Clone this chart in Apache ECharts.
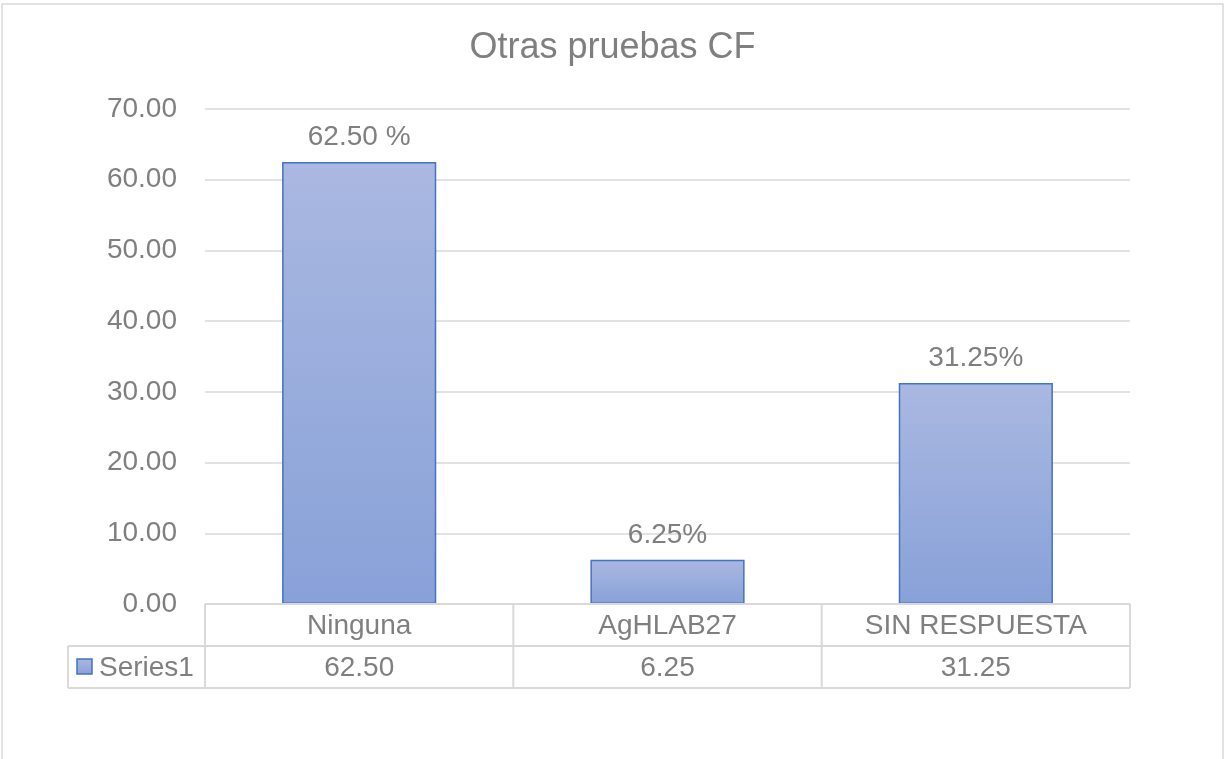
<!DOCTYPE html>
<html>
<head>
<meta charset="utf-8">
<script src="https://cdn.jsdelivr.net/npm/echarts@6/dist/echarts.min.js"></script>
<style>
html,body{margin:0;padding:0;background:#fff;}
#c{width:1225px;height:759px;}
</style>
</head>
<body>
<div id="c"></div>
<script>
const titleText = 'Otras pruebas CF';
const categories = ['Ninguna', 'AgHLAB27', 'SIN RESPUESTA'];
const values = [62.50, 6.25, 31.25];
const tableValues = ['62.50', '6.25', '31.25'];
const barLabels = ['62.50 %', '6.25%', '31.25%'];
const seriesName = 'Series1';
const yTicks = { min: 0, max: 70, interval: 10 };

const FONT = '"Liberation Sans", Arial, sans-serif';
const TXT = '#7f7f7f';
const LINE = '#d9d9d9';
const barFill = new echarts.graphic.LinearGradient(0, 0, 0, 1, [
  { offset: 0, color: '#aab8e1' },
  { offset: 1, color: '#88a1d8' }
]);

const chart = echarts.init(document.getElementById('c'), null, { renderer: 'canvas' });
const gridLeft = 205, gridRight = 95, gridTop = 109, gridBottom = 155;
const rowH = 42;

chart.setOption({
  animation: false,
  backgroundColor: '#fff',
  title: {
    text: titleText, left: 'center', top: 25,
    textStyle: { fontFamily: FONT, fontSize: 36, fontWeight: 'normal', color: TXT }
  },
  grid: { left: gridLeft, right: gridRight, top: gridTop, bottom: gridBottom, containLabel: false },
  xAxis: [{
    type: 'category', data: categories, position: 'bottom',
    axisLine: { show: false }, axisTick: { show: false },
    axisLabel: { fontFamily: FONT, fontSize: 28, color: TXT, margin: 8, lineHeight: 28 }
  }, {
    type: 'category', data: tableValues, position: 'bottom', offset: rowH,
    axisLine: { show: false }, axisTick: { show: false },
    axisLabel: { fontFamily: FONT, fontSize: 28, color: TXT, margin: 8, lineHeight: 28 }
  }],
  yAxis: {
    type: 'value', min: yTicks.min, max: yTicks.max, interval: yTicks.interval,
    axisLine: { show: false }, axisTick: { show: false },
    splitLine: { lineStyle: { color: LINE, width: 1.5 } },
    axisLabel: {
      fontFamily: FONT, fontSize: 28, color: TXT, margin: 28,
      formatter: v => v.toFixed(2)
    }
  },
  series: [{
    type: 'bar', name: seriesName, data: values, barWidth: '50%',
    itemStyle: { color: barFill, borderColor: '#4472c4', borderWidth: 1.5 },
    label: {
      show: true, position: 'top', distance: 11,
      fontFamily: FONT, fontSize: 28, color: TXT,
      formatter: p => barLabels[p.dataIndex]
    }
  }]
});

// Data table lines & legend key, positioned from the grid rect
const rect = chart.getModel().getComponent('grid').coordinateSystem.getRect();
const x0 = rect.x, x1 = rect.x + rect.width, yb = rect.y + rect.height;
const catW = rect.width / categories.length;
const leftCol = x0 - 137;
const els = [];
const ls = { stroke: LINE, lineWidth: 2 };
function hl(xa, xb, y) { els.push({ type: 'line', shape: { x1: xa, y1: y, x2: xb, y2: y }, style: ls, z: 10 }); }
function vl(x, ya, yb2) { els.push({ type: 'line', shape: { x1: x, y1: ya, x2: x, y2: yb2 }, style: ls, z: 10 }); }
hl(x0, x1, yb);
hl(leftCol, x1, yb + rowH);
hl(leftCol, x1, yb + 2 * rowH);
for (let i = 0; i <= categories.length; i++) vl(x0 + i * catW, yb, yb + 2 * rowH);
vl(leftCol, yb + rowH, yb + 2 * rowH);
// legend key
els.push({
  type: 'rect', shape: { x: leftCol + 9, y: yb + rowH + 13, width: 15, height: 15 },
  style: { fill: barFill, stroke: '#4472c4', lineWidth: 1.5 }, z: 11
});
els.push({
  type: 'text', x: leftCol + 31, y: yb + rowH + rowH / 2 + 1,
  style: { text: seriesName, fontFamily: FONT, fontSize: 28, fill: TXT, verticalAlign: 'middle', align: 'left' }, z: 11
});
// outer chart border
els.push({
  type: 'rect', shape: { x: 2, y: 4, width: 1221, height: 770 },
  style: { fill: 'none', stroke: LINE, lineWidth: 1.5 }, z: 1
});
chart.setOption({ graphic: { elements: els } });
</script>
</body>
</html>
